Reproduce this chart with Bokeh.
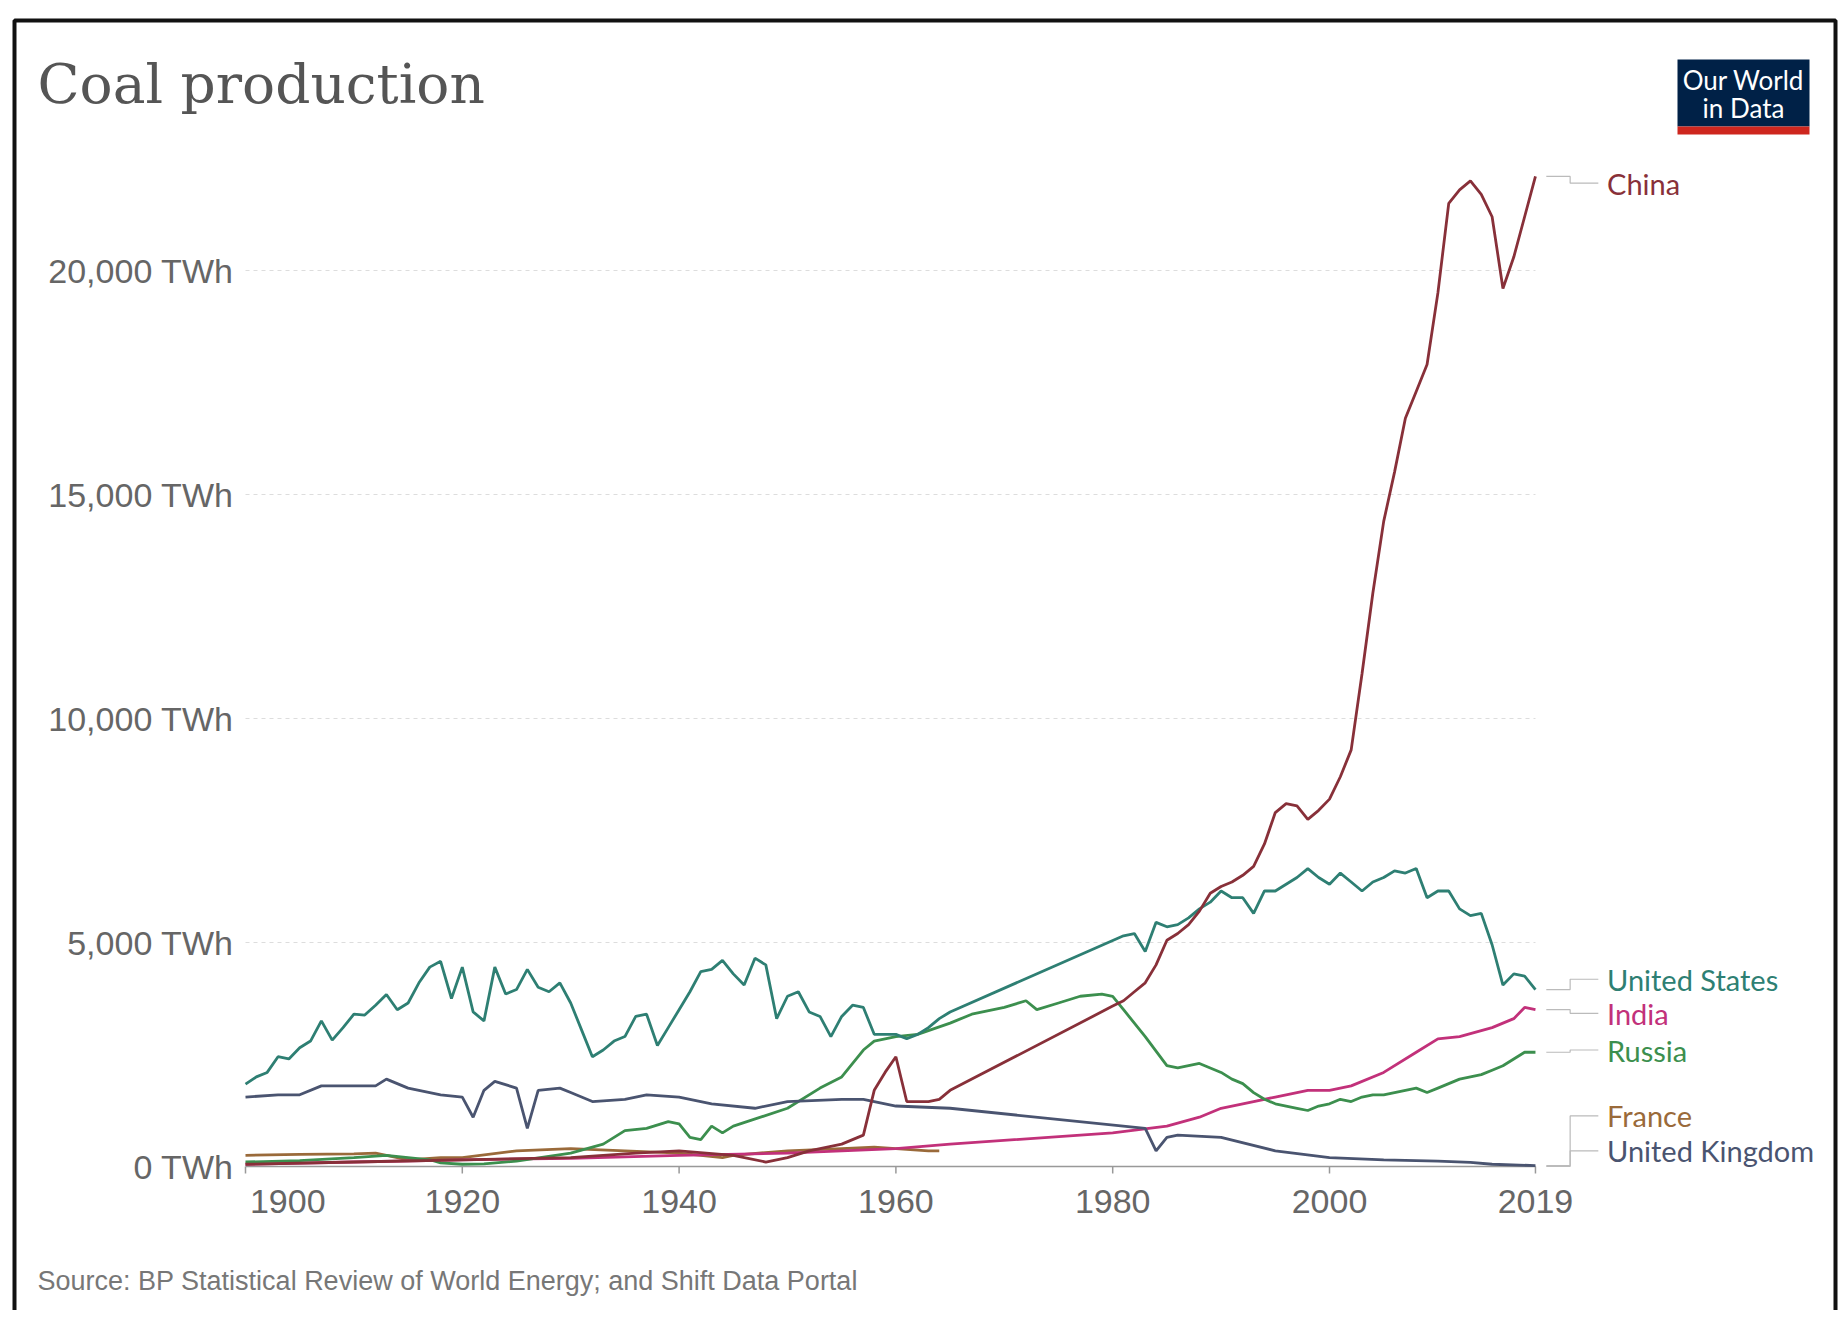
from bokeh.plotting import figure
from bokeh.core.properties import value
from bokeh.embed import file_html
from bokeh.resources import INLINE

us_years = list(range(1900, 1966)) + [1981] + list(range(1982, 2020))
us_vals = [1840,2000,2100,2450,2400,2650,2800,3250,2820,3100,3400,3380,3600,3840,3500,3650,4100,4450,4580,3750,
           4450,3450,3250,4450,3850,3950,4400,4000,3900,4100,3650,3050,2450,2600,2800,2900,3350,3400,2700,3100,
           3500,3900,4350,4400,4600,4300,4050,4650,4500,3300,3800,3900,3450,3350,2900,3350,3600,3550,2950,2950,
           2950,2850,2950,3100,3300,3450,5150,5200,4800,5450,5350,5400,5550,5750,5900,6150,6000,6000,5650,6150,
           6150,6300,6450,6650,6450,6300,6550,6350,6150,6350,6450,6600,6550,6650,6000,6150,6150,5750,5600,5650,
           4950,4050,4300,4250,3950]

china_years = [1900,1910,1920,1930,1936,1940,1945,1948,1949,1950,1952,1955,1957,1958,1959,1960,1961,1962,1963,1964,1965,
               1980,1981,1982,1983,1984,1985,1986,1987,1988,1989,1990,1991,1992,1993,1994,1995,1996,1997,1998,1999,
               2000,2001,2002,2003,2004,2005,2006,2007,2008,2009,2010,2011,2012,2013,2014,2015,2016,2017,2018,2019]
china_vals = [50,100,150,200,300,350,250,100,150,200,350,500,700,1700,2100,2450,1450,1450,1450,1500,1700,
              3580,3700,3900,4100,4500,5050,5200,5400,5700,6100,6250,6350,6500,6700,7200,7900,8100,8050,7750,7950,
              8200,8700,9300,11000,12800,14400,15500,16700,17300,17900,19500,21500,21800,22000,21700,21200,19600,20300,21200,22100]

russia_years = [1900,1905,1910,1913,1915,1917,1918,1920,1922,1925,1930,1933,1935,1937,1939,1940,1941,1942,1943,1944,1945,
                1950,1953,1955,1957,1958,1960,1962,1965,1967,1970,1972,1973,1975,1977,1979,1980,1981,1983,1985,1986,1987,1988,
                1989,1990,1991,1992,1993,1994,1995,1996,1997,1998,1999,2000,2001,2002,2003,2004,2005,2006,2007,2008,2009,
                2010,2011,2012,2013,2014,2015,2016,2017,2018,2019]
russia_vals = [100,130,200,250,200,150,80,50,60,120,300,500,800,850,1000,950,650,600,900,750,900,
               1300,1750,2000,2600,2800,2900,2950,3200,3400,3550,3700,3500,3650,3800,3850,3800,3500,2900,2250,2200,2250,2300,
               2200,2100,1950,1850,1650,1500,1400,1350,1300,1250,1350,1400,1500,1450,1550,1600,1600,1650,1700,1750,1650,
               1750,1850,1950,2000,2050,2150,2250,2400,2550,2550]

india_years = [1900,1910,1920,1930,1940,1950,1960,1965,1980,1985,1988,1990,1993,1995,1998,2000,2002,2005,2008,2010,
               2012,2015,2017,2018,2019]
india_vals = [50,100,150,180,250,300,400,500,750,900,1100,1300,1450,1550,1700,1700,1800,2100,2550,2850,
              2900,3100,3300,3550,3500]

uk_years = [1900,1903,1905,1907,1910,1912,1913,1915,1918,1920,1921,1922,1923,1925,1926,1927,1929,1930,1932,1935,1937,
            1940,1943,1947,1950,1955,1957,1960,1965,1983,1984,1985,1986,1990,1995,2000,2005,2010,2013,2015,2019]
uk_vals = [1550,1600,1600,1800,1800,1800,1950,1750,1600,1550,1100,1700,1900,1750,850,1700,1750,1650,1450,1500,1600,
           1550,1400,1300,1450,1500,1500,1350,1300,850,350,650,700,650,350,200,150,120,90,50,20]

france_years = [1900,1905,1910,1912,1914,1915,1918,1920,1925,1930,1935,1940,1944,1945,1950,1955,1958,1960,1963,1964]
france_vals = [250,270,280,300,200,150,200,200,350,400,350,300,200,250,350,400,430,400,350,350]

names = ["China", "United States", "India", "Russia", "France", "United Kingdom"]
colors = ["#883039", "#2E7F73", "#C2317A", "#3C8F4E", "#9A6A3A", "#4A5470"]
label_vals = [21950, 4180, 3420, 2600, 1130, 350]

y_ticks = [0, 5000, 10000, 15000, 20000]
y_tick_labels = ["0 TWh", "5,000 TWh", "10,000 TWh", "15,000 TWh", "20,000 TWh"]
x_ticks = [1900, 1920, 1940, 1960, 1980, 2000, 2019]
x_tick_labels = ["1900", "1920", "1940", "1960", "1980", "2000", "2019"]

W, H = 1838, 1310
XPX = 10.84      # px per year
YPX = 0.0448     # px per TWh
x0 = 1900 - 245 / XPX
y0 = -144 / YPX
p = figure(width=W, height=H, x_range=(x0, x0 + W / XPX), y_range=(y0, y0 + H / YPX),
           output_backend="svg", toolbar_location=None, min_border=0)
p.axis.visible = False
p.grid.visible = False
p.outline_line_color = None

px = 1 / XPX
py = 1 / YPX
SANS = value("Liberation Sans")
# screenshot frame
ytop = y0 + H / YPX - 20 * py
p.line([x0 + 14 * px, x0 + 14 * px, x0 + W / XPX - 3 * px, x0 + W / XPX - 3 * px],
       [y0 - 10 * py, ytop, ytop, y0 - 10 * py], line_color="#111111", line_width=4)

for v in y_ticks[1:]:
    p.line([1900, 2019], [v, v], line_color="#dddddd", line_dash="4 4", line_width=1.2)

p.line([1900, 2019], [0, 0], line_color="#999999", line_width=1.5)
p.segment(x0=x_ticks, y0=[0] * len(x_ticks), x1=x_ticks, y1=[-7 * py] * len(x_ticks),
          line_color="#999999", line_width=1.5)
p.text(x=[t + (3.9 if t == 1900 else 0) for t in x_ticks], y=[-35 * py] * len(x_ticks), text=x_tick_labels,
       text_font=SANS, text_font_size="34px", text_color="#666666",
       text_align="center", text_baseline="middle")
p.text(x=[1900 - 12 * px] * len(y_ticks), y=y_ticks, text=y_tick_labels,
       text_font=SANS, text_font_size="34px", text_color="#666666",
       text_align="right", text_baseline="middle")

series = [(china_years, china_vals), (us_years, us_vals), (india_years, india_vals),
          (russia_years, russia_vals), (france_years, france_vals), (uk_years, uk_vals)]
for i in [4, 2, 3, 5, 1, 0]:
    xs, ys = series[i]
    p.line(xs, ys, line_color=colors[i], line_width=2.8)

for i, name in enumerate(names):
    xs, ys = series[i]
    ly = label_vals[i]
    yend = ys[-1] if xs[-1] == 2019 else 0
    p.line([2020, 2022.2, 2022.2, 2024.8], [yend, yend, ly, ly], line_color="#bbbbbb", line_width=1.2)
    p.text(x=[2025.6], y=[ly], text=[name], text_color=colors[i], text_font=value("Lato"),
           text_font_size="29px", text_baseline="middle")

p.text(x=[x0 + 37 * px], y=[(1168 - 85) * py], text=["Coal production"], text_font=value("DejaVu Serif"),
       text_font_size="55px", text_color="#555555", text_baseline="middle")
p.text(x=[x0 + 37 * px], y=[(1168 - 1282) * py],
       text=["Source: BP Statistical Review of World Energy; and Shift Data Portal"],
       text_font=SANS, text_font_size="27px", text_color="#777777", text_baseline="middle")

# logo
lx0, lx1 = x0 + 1677 * px, x0 + 1809 * px
p.quad(left=[lx0], right=[lx1], bottom=[(1168 - 128) * py], top=[(1168 - 61) * py], fill_color="#002147", line_color=None)
p.quad(left=[lx0], right=[lx1], bottom=[(1168 - 136) * py], top=[(1168 - 128) * py], fill_color="#CE261E", line_color=None)
p.text(x=[(lx0 + lx1) / 2] * 2, y=[(1168 - 81) * py, (1168 - 109) * py], text=["Our World", "in Data"],
       text_font=value("Lato"), text_font_size="26px", text_color="white", text_align="center", text_baseline="middle")

open("out.html", "w").write(file_html(p, INLINE))
